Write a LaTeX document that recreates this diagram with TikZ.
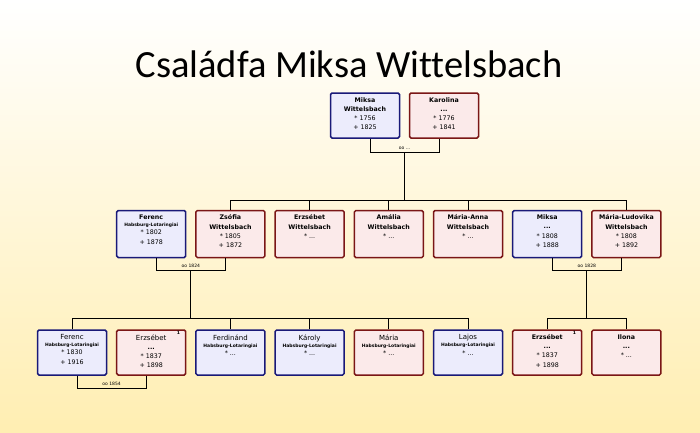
\documentclass[tikz,border=0pt]{standalone}
\usepackage{fontspec}
\setmainfont{DejaVu Sans}
\newfontfamily\titlefont[Ligatures=NoCommon]{Carlito}
\usetikzlibrary{calc}
\definecolor{mborder}{RGB}{25,25,120}
\definecolor{mfill}{RGB}{236,236,252}
\definecolor{fborder}{RGB}{122,22,22}
\definecolor{ffill}{RGB}{251,234,234}
\definecolor{bgtop}{RGB}{255,255,255}
\definecolor{bgmid}{RGB}{255,246,218}
\definecolor{bgbot}{RGB}{255,238,178}
\newcommand\hablot{{\fontsize{4.5}{6}\selectfont\bfseries Habsburg-Lotaringiai}}
\tikzset{
  pbox/.style={line width=1.5pt, rounded corners=1.5pt, minimum width=69pt, minimum height=45pt, inner sep=0pt},
  male/.style={pbox, draw=mborder, fill=mfill},
  female/.style={pbox, draw=fborder, fill=ffill},
  txt/.style={anchor=north, align=center, inner sep=0pt, font=\fontsize{6.3}{9.2}\selectfont, yshift=-5pt},
  mlabel/.style={inner sep=0pt, font=\fontsize{4.5}{5}\selectfont, yshift=4pt},
  supnum/.style={inner sep=0pt, font=\fontsize{4.5}{5}\selectfont\bfseries},
  conn/.style={line width=0.8pt, black}
}
\begin{document}
\begin{tikzpicture}[x=1pt,y=-1pt]
\useasboundingbox (0,0) rectangle (700,432);
\shade[top color=bgtop, middle color=bgmid, bottom color=bgbot] (0,0) rectangle (700,432);
\node[font=\titlefont\fontsize{38.5}{40}\selectfont, anchor=base] (title) at (349,77) {Családfa Miksa Wittelsbach};

% row 1
\node[male] (mik1) at (365,115.5) {};
\node[txt] (mik1t) at (mik1.north) {\bfseries Miksa\\\bfseries Wittelsbach\\* 1756\\+ 1825};
\node[female] (kar1) at (444,115.5) {};
\node[txt] (kar1t) at (kar1.north) {\bfseries Karolina\\\bfseries ...\\* 1776\\+ 1841};

% row 2
\node[male] (fer2) at (151.2,234) [minimum height=47pt] {};
\node[txt] (fer2t) at (fer2.north) {\bfseries Ferenc\\[-2pt]\hablot\\[-1pt]* 1802\\+ 1878};
\node[female] (zso) at (230.4,234) [minimum height=47pt] {};
\node[txt] (zsot) at (zso.north) {\bfseries Zsófia\\\bfseries Wittelsbach\\* 1805\\+ 1872};
\node[female] (erz2) at (309.6,234) [minimum height=47pt] {};
\node[txt] (erz2t) at (erz2.north) {\bfseries Erzsébet\\\bfseries Wittelsbach\\* ...};
\node[female] (ama) at (388.8,234) [minimum height=47pt] {};
\node[txt] (amat) at (ama.north) {\bfseries Amália\\\bfseries Wittelsbach\\* ...};
\node[female] (man) at (468,234) [minimum height=47pt] {};
\node[txt] (mant) at (man.north) {\bfseries Mária-Anna\\\bfseries Wittelsbach\\* ...};
\node[male] (mik2) at (547.2,234) [minimum height=47pt] {};
\node[txt] (mik2t) at (mik2.north) {\bfseries Miksa\\\bfseries ...\\* 1808\\+ 1888};
\node[female] (mlu) at (626.4,234) [minimum height=47pt] {};
\node[txt] (mlut) at (mlu.north) {\bfseries Mária-Ludovika\\\bfseries Wittelsbach\\* 1808\\+ 1892};

% row 3
\node[male] (fer3) at (72,352.5) {};
\node[txt] (fer3t) at (fer3.north) {\fontsize{7}{9}\selectfont Ferenc\\[-2pt]\hablot\\[-1pt]* 1830\\+ 1916};
\node[female] (erz3) at (151.2,352.5) {};
\node[txt] (erz3t) at (erz3.north) {\fontsize{7}{9}\selectfont Erzsébet\\\bfseries ...\\* 1837\\+ 1898};
\node[supnum] (erz3s) at ([xshift=-8pt,yshift=-4pt]erz3.north east) {1};
\node[male] (ferd) at (230.4,352.5) {};
\node[txt] (ferdt) at (ferd.north) {\fontsize{7}{9}\selectfont Ferdinánd\\[-2pt]\hablot\\[-1pt]* ...};
\node[male] (kar3) at (309.6,352.5) {};
\node[txt] (kar3t) at (kar3.north) {\fontsize{7}{9}\selectfont Károly\\[-2pt]\hablot\\[-1pt]* ...};
\node[female] (mar3) at (388.8,352.5) {};
\node[txt] (mar3t) at (mar3.north) {\fontsize{7}{9}\selectfont Mária\\[-2pt]\hablot\\[-1pt]* ...};
\node[male] (laj) at (468,352.5) {};
\node[txt] (lajt) at (laj.north) {\fontsize{7}{9}\selectfont Lajos\\[-2pt]\hablot\\[-1pt]* ...};
\node[female] (erz3b) at (547.2,352.5) {};
\node[txt] (erz3bt) at (erz3b.north) {\bfseries Erzsébet\\\bfseries ...\\* 1837\\+ 1898};
\node[supnum] (erz3bs) at ([xshift=-8pt,yshift=-4pt]erz3b.north east) {1};
\node[female] (ilo) at (626.4,352.5) {};
\node[txt] (ilot) at (ilo.north) {\bfseries Ilona\\\bfseries ...\\* ...};

% marriage Miksa - Karolina
\coordinate (m1) at ($(mik1.south)!0.5!(kar1.south)+(0,14)$);
\draw[conn] ([xshift=5pt]mik1.south) |- (m1) -| ([xshift=-5pt]kar1.south);
\node[mlabel] (m1l) at (m1) {oo ...};
\coordinate (s1) at ($(m1)+(0,48)$);
\draw[conn] (m1) -- (s1);
\draw[conn] (zso.north) |- (mlu.north |- s1) -- (mlu.north);
\foreach \n in {erz2,ama,man} \draw[conn] (\n.north) -- (\n.north |- s1);

% marriage Ferenc - Zsófia
\coordinate (m2) at ($(fer2.south)!0.5!(zso.south)+(0,12)$);
\draw[conn] ([xshift=5.5pt]fer2.south) |- (m2) -| ([xshift=-5.5pt]zso.south);
\node[mlabel] (m2l) at (m2) {oo 1824};
\coordinate (s2) at ($(m2)+(0,48.5)$);
\draw[conn] (m2) -- (s2);
\draw[conn] (fer3.north) |- (laj.north |- s2) -- (laj.north);
\foreach \n in {ferd,kar3,mar3} \draw[conn] (\n.north) -- (\n.north |- s2);

% marriage Miksa - Mária-Ludovika
\coordinate (m3) at ($(mik2.south)!0.5!(mlu.south)+(0,12)$);
\draw[conn] ([xshift=5.5pt]mik2.south) |- (m3) -| ([xshift=-5.5pt]mlu.south);
\node[mlabel] (m3l) at (m3) {oo 1828};
\coordinate (s3) at ($(m3)+(0,48.5)$);
\draw[conn] (m3) -- (s3);
\draw[conn] (erz3b.north) |- (ilo.north |- s3) -- (ilo.north);

% marriage Ferenc - Erzsébet
\coordinate (m4) at ($(fer3.south)!0.5!(erz3.south)+(0,12.5)$);
\draw[conn] ([xshift=5pt]fer3.south) |- (m4) -| ([xshift=-5pt]erz3.south);
\node[mlabel] (m4l) at (m4) {oo 1854};
\end{tikzpicture}
\end{document}
